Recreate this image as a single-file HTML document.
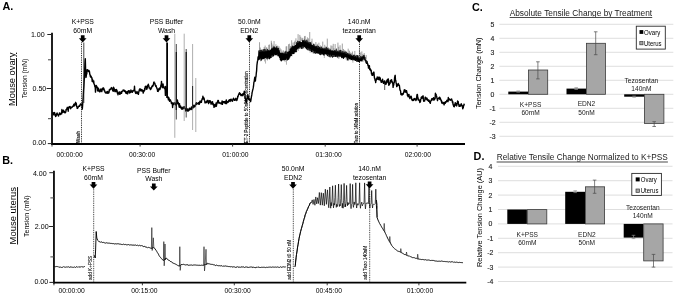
<!DOCTYPE html>
<html><head><meta charset="utf-8"><title>Figure</title>
<style>
html,body{margin:0;padding:0;background:#fff;}
svg{display:block;font-family:"Liberation Sans", Arial, Helvetica, sans-serif;}
</style></head><body>
<svg width="675" height="295" viewBox="0 0 675 295">
<rect x="0" y="0" width="675" height="295" fill="#fff"/>
<text x="2.40" y="10.30" font-size="10.8" text-anchor="start" font-weight="bold" >A.</text>
<text transform="translate(15.00,79.30) rotate(-90)" font-size="9.3" text-anchor="middle" textLength="53.30" lengthAdjust="spacingAndGlyphs" text-decoration="underline">Mouse ovary</text>
<text transform="translate(27.00,78.50) rotate(-90)" font-size="6.5" text-anchor="middle" textLength="39.60" lengthAdjust="spacingAndGlyphs" >Tension (mN)</text>
<line x1="52.00" y1="32.80" x2="52.00" y2="144.90" stroke="#000" stroke-width="1.75" />
<line x1="51.15" y1="144.00" x2="465.00" y2="144.00" stroke="#000" stroke-width="1.8" />
<line x1="47.30" y1="34.50" x2="52.00" y2="34.50" stroke="#222" stroke-width="1.0" />
<text x="44.70" y="37.20" font-size="7.1" text-anchor="end" >1.00</text>
<line x1="46.60" y1="88.50" x2="52.00" y2="88.50" stroke="#222" stroke-width="1.0" />
<text x="46.30" y="90.90" font-size="7.1" text-anchor="end" >0.50</text>
<line x1="47.80" y1="143.60" x2="52.00" y2="143.60" stroke="#222" stroke-width="1.0" />
<text x="46.20" y="145.20" font-size="7.1" text-anchor="end" >0.00</text>
<line x1="48.00" y1="59.80" x2="52.00" y2="59.80" stroke="#444" stroke-width="1.0" />
<line x1="48.00" y1="118.70" x2="52.00" y2="118.70" stroke="#444" stroke-width="1.0" />
<line x1="52.00" y1="144.00" x2="52.00" y2="146.60" stroke="#222" stroke-width="0.9" />
<line x1="140.10" y1="144.00" x2="140.10" y2="146.60" stroke="#222" stroke-width="0.9" />
<line x1="232.60" y1="144.00" x2="232.60" y2="146.60" stroke="#222" stroke-width="0.9" />
<line x1="325.20" y1="144.00" x2="325.20" y2="146.60" stroke="#222" stroke-width="0.9" />
<line x1="417.10" y1="144.00" x2="417.10" y2="146.60" stroke="#222" stroke-width="0.9" />
<text x="69.60" y="157.20" font-size="6.8" text-anchor="middle" textLength="26.30" lengthAdjust="spacingAndGlyphs" >00:00:00</text>
<text x="142.10" y="157.20" font-size="6.8" text-anchor="middle" textLength="26.30" lengthAdjust="spacingAndGlyphs" >00:30:00</text>
<text x="235.40" y="157.20" font-size="6.8" text-anchor="middle" textLength="26.30" lengthAdjust="spacingAndGlyphs" >01:00:00</text>
<text x="328.60" y="157.20" font-size="6.8" text-anchor="middle" textLength="26.30" lengthAdjust="spacingAndGlyphs" >01:30:00</text>
<text x="417.80" y="157.20" font-size="6.8" text-anchor="middle" textLength="26.30" lengthAdjust="spacingAndGlyphs" >02:00:00</text>
<text x="82.70" y="24.20" font-size="6.8" text-anchor="middle" >K+PSS</text>
<text x="82.70" y="33.00" font-size="6.8" text-anchor="middle" >60mM</text>
<polygon points="80.85,35.30 84.55,35.30 84.55,38.20 86.55,38.20 82.70,42.40 78.85,38.20 80.85,38.20" fill="#000"/>
<text x="166.50" y="24.30" font-size="6.8" text-anchor="middle" >PSS Buffer</text>
<text x="166.50" y="32.90" font-size="6.8" text-anchor="middle" >Wash</text>
<polygon points="164.65,35.30 168.35,35.30 168.35,38.20 170.35,38.20 166.50,42.40 162.65,38.20 164.65,38.20" fill="#000"/>
<text x="249.30" y="24.20" font-size="6.8" text-anchor="middle" >50.0nM</text>
<text x="249.30" y="32.60" font-size="6.8" text-anchor="middle" >EDN2</text>
<polygon points="247.45,35.20 251.15,35.20 251.15,38.30 253.15,38.30 249.30,42.50 245.45,38.30 247.45,38.30" fill="#000"/>
<text x="359.20" y="24.20" font-size="6.8" text-anchor="middle" >140.nM</text>
<text x="359.20" y="32.80" font-size="6.8" text-anchor="middle" >tezosentan</text>
<polygon points="357.35,35.30 361.05,35.30 361.05,38.30 363.05,38.30 359.20,42.50 355.35,38.30 357.35,38.30" fill="#000"/>
<line x1="81.50" y1="42.40" x2="81.50" y2="143.20" stroke="#000" stroke-width="0.9" stroke-dasharray="0.9 0.9"/>
<line x1="249.50" y1="42.40" x2="249.50" y2="143.20" stroke="#000" stroke-width="0.9" stroke-dasharray="0.9 0.9"/>
<line x1="359.50" y1="42.40" x2="359.50" y2="143.20" stroke="#000" stroke-width="0.9" stroke-dasharray="0.9 0.9"/>
<text transform="translate(80.30,143.00) rotate(-90)" font-size="4.6" text-anchor="start" font-weight="bold" textLength="12.20" lengthAdjust="spacingAndGlyphs" >Wash</text>
<text transform="translate(248.10,143.20) rotate(-90)" font-size="5.2" text-anchor="start" textLength="72.00" lengthAdjust="spacingAndGlyphs" stroke="#000" stroke-width="0.12">ET-2 Peptide to 50nM Concentration</text>
<text transform="translate(358.30,143.20) rotate(-90)" font-size="5.2" text-anchor="start" textLength="40.00" lengthAdjust="spacingAndGlyphs" stroke="#000" stroke-width="0.12">Tezo to 140nM solution</text>
<path d="M52.60 113.22 L52.90 112.76 L53.20 114.85 L53.50 113.00 L53.80 114.08 L54.10 112.45 L54.40 113.15 L54.70 112.72 L55.00 115.30 L55.30 114.34 L55.60 116.47 L55.90 115.67 L56.20 115.86 L56.50 113.74 L56.80 114.65 L57.10 113.01 L57.40 114.41 L57.70 114.66 L58.00 114.82 L58.30 115.64 L58.60 115.95 L58.90 114.27 L59.20 114.28 L59.50 112.88 L59.80 113.13 L60.10 113.60 L60.40 114.52 L60.70 113.51 L61.00 113.81 L61.30 113.95 L61.60 113.85 L61.90 109.45 L62.20 112.80 L62.50 112.20 L62.80 111.81 L63.10 110.85 L63.40 110.20 L63.70 110.86 L64.00 112.25 L64.30 111.48 L64.60 111.85 L64.90 112.90 L65.20 112.75 L65.50 112.04 L65.80 111.97 L66.10 109.36 L66.40 109.87 L66.70 108.89 L67.00 108.43 L67.30 107.32 L67.60 109.01 L67.90 107.59 L68.20 111.22 L68.50 108.23 L68.80 108.10 L69.10 106.78 L69.40 107.69 L69.70 106.91 L70.00 106.61 L70.30 106.99 L70.60 108.75 L70.90 107.83 L71.20 107.09 L71.50 107.09 L71.80 107.53 L72.10 106.94 L72.40 107.02 L72.70 106.19 L73.00 106.34 L73.30 105.67 L73.60 105.23 L73.90 104.28 L74.20 105.92 L74.50 105.04 L74.80 105.38 L75.10 103.28 L75.40 104.22 L75.70 102.33 L76.00 103.34 L76.30 103.45 L76.60 106.44 L76.90 106.53 L77.20 108.42 L77.50 108.27 L77.80 108.14 L78.10 107.02 L78.40 106.95 L78.70 106.47 L79.00 106.23 L79.30 105.36 L79.60 106.29 L79.90 105.33 L80.20 104.99 L80.50 103.93 L80.80 104.90 L81.10 103.95 L81.40 104.79 L81.70 104.45 L82.00 105.65 L82.30 109.11 L82.60 105.75 L82.90 100.69 L83.20 97.00 L83.50 90.79 L83.80 87.48 L84.10 82.11 L84.40 76.82 L84.70 69.11 L85.00 62.26 L85.30 58.66 L85.60 69.72 L85.90 77.56 L86.20 76.55 L86.50 73.10 L86.80 73.93 L87.10 69.73 L87.40 69.63 L87.70 70.09 L88.00 71.10 L88.30 70.45 L88.60 71.59 L88.90 70.46 L89.20 71.23 L89.50 71.72 L89.80 74.28 L90.10 75.14 L90.40 76.59 L90.70 75.67 L91.00 77.36 L91.30 76.58 L91.60 77.74 L91.90 77.66 L92.20 81.33 L92.50 79.26 L92.80 81.44 L93.10 81.56 L93.40 82.67 L93.70 80.84 L94.00 83.99 L94.30 84.11 L94.60 85.25 L94.90 86.74 L95.20 87.08 L95.50 92.12 L95.80 86.30 L96.10 85.51 L96.40 85.61 L96.70 86.68 L97.00 87.63 L97.30 87.04 L97.60 90.86 L97.90 88.85 L98.20 89.28 L98.50 88.29 L98.80 91.06 L99.10 91.20 L99.40 91.79 L99.70 90.09 L100.00 91.75 L100.30 89.58 L100.60 89.82 L100.90 88.97 L101.20 91.00 L101.50 90.01 L101.80 91.61 L102.10 88.92 L102.40 89.79 L102.70 88.32 L103.00 89.35 L103.30 87.82 L103.60 88.32 L103.90 88.67 L104.20 90.64 L104.50 90.20 L104.80 91.57 L105.10 92.34 L105.40 92.62 L105.70 92.63 L106.00 93.29 L106.30 92.16 L106.60 92.84 L106.90 92.27 L107.20 91.41 L107.50 91.73 L107.80 93.26 L108.10 91.92 L108.40 92.21 L108.70 93.01 L109.00 92.34 L109.30 89.81 L109.60 90.61 L109.90 89.20 L110.20 89.25 L110.50 88.90 L110.80 89.22 L111.10 87.96 L111.40 88.33 L111.70 87.59 L112.00 88.60 L112.30 88.58 L112.60 90.34 L112.90 89.09 L113.20 91.31 L113.50 87.15 L113.80 89.00 L114.10 88.23 L114.40 90.70 L114.70 89.46 L115.00 91.65 L115.30 91.21 L115.60 91.58 L115.90 89.77 L116.20 91.55 L116.50 89.56 L116.80 90.48 L117.10 90.59 L117.40 93.12 L117.70 93.20 L118.00 94.76 L118.30 92.89 L118.60 93.61 L118.90 92.26 L119.20 91.92 L119.50 91.94 L119.80 94.35 L120.10 92.66 L120.40 93.88 L120.70 92.89 L121.00 93.20 L121.30 91.40 L121.60 93.21 L121.90 91.55 L122.20 91.43 L122.50 91.20 L122.80 90.94 L123.10 90.04 L123.40 90.79 L123.70 90.36 L124.00 90.05 L124.30 90.56 L124.60 91.45 L124.90 90.84 L125.20 91.44 L125.50 91.08 L125.80 93.06 L126.10 91.71 L126.40 93.20 L126.70 93.03 L127.00 93.57 L127.30 91.71 L127.60 93.78 L127.90 91.68 L128.20 91.07 L128.50 90.76 L128.80 91.02 L129.10 90.62 L129.40 92.98 L129.70 91.55 L130.00 92.91 L130.30 91.95 L130.60 92.28 L130.90 90.04 L131.20 91.65 L131.50 90.95 L131.80 92.05 L132.10 91.30 L132.40 92.27 L132.70 90.83 L133.00 91.28 L133.30 90.39 L133.60 90.73 L133.90 90.60 L134.20 90.78 L134.50 86.23 L134.80 90.69 L135.10 90.95 L135.40 92.68 L135.70 93.28 L136.00 93.46 L136.30 93.38 L136.60 93.07 L136.90 91.54 L137.20 91.92 L137.50 93.08 L137.80 93.82 L138.10 92.98 L138.40 94.27 L138.70 92.37 L139.00 91.50 L139.30 89.70 L139.60 90.39 L139.90 88.82 L140.20 89.19 L140.50 89.04 L140.80 90.80 L141.10 90.37 L141.40 89.83 L141.70 89.58 L142.00 91.14 L142.30 89.97 L142.60 90.27 L142.90 91.21 L143.20 93.13 L143.50 90.62 L143.80 91.62 L144.10 90.89 L144.40 90.64 L144.70 88.17 L145.00 89.79 L145.30 86.43 L145.60 86.85 L145.90 86.13 L146.20 87.42 L146.50 86.49 L146.80 89.34 L147.10 88.28 L147.40 86.97 L147.70 85.31 L148.00 85.72 L148.30 84.27 L148.60 85.56 L148.90 86.47 L149.20 88.05 L149.50 87.82 L149.80 87.96 L150.10 88.36 L150.40 89.54 L150.70 89.36 L151.00 88.70 L151.30 87.49 L151.60 87.89 L151.90 86.22 L152.20 86.46 L152.50 85.47 L152.80 86.26 L153.10 85.41 L153.40 84.77 L153.70 82.56 L154.00 81.95 L154.30 82.54 L154.60 83.03 L154.90 83.38 L155.20 85.03 L155.50 85.73 L155.80 86.54 L156.10 85.55 L156.40 86.94 L156.70 87.63 L157.00 88.69 L157.30 89.25 L157.60 91.30 L157.90 91.20 L158.20 91.43 L158.50 88.98 L158.80 89.71 L159.10 88.54 L159.40 89.73 L159.70 88.00 L160.00 89.45 L160.30 88.17 L160.60 87.84 L160.90 85.07 L161.20 85.48 L161.50 81.41 L161.80 85.93 L162.10 85.69 L162.40 87.50 L162.70 87.69 L163.00 83.83 L163.30 85.46 L163.60 86.80 L163.90 86.51 L164.20 88.01 L164.50 88.63 L164.80 88.70 L165.10 87.99 L165.40 95.42 L165.70 86.43 L166.00 87.19 L166.30 89.48 L166.60 91.69 L166.90 92.56 L167.20 95.40 L167.50 96.62 L167.80 97.87 L168.10 96.96 L168.40 99.88 L168.70 99.07 L169.00 97.86 L169.30 100.00 L169.60 101.23 L169.90 99.64 L170.20 100.59 L170.50 100.00 L170.80 101.00 L171.10 101.56 L171.40 103.39 L171.70 102.69 L172.00 103.68 L172.30 103.09 L172.60 107.49 L172.90 102.86 L173.20 104.54 L173.50 103.07 L173.80 104.61 L174.10 103.56 L174.40 103.95 L174.70 102.78 L175.00 103.79 L175.30 103.13 L175.60 104.67 L175.90 103.72 L176.20 105.13 L176.50 103.44 L176.80 104.20 L177.10 102.80 L177.40 99.90 L177.70 102.05 L178.00 103.47 L178.30 102.70 L178.60 103.94 L178.90 105.35 L179.20 107.14 L179.50 103.64 L179.80 107.36 L180.10 106.85 L180.40 107.21 L180.70 106.06 L181.00 108.12 L181.30 107.44 L181.60 109.06 L181.90 107.59 L182.20 108.77 L182.50 108.43 L182.80 109.21 L183.10 106.98 L183.40 108.60 L183.70 107.86 L184.00 107.74 L184.30 106.68 L184.60 108.10 L184.90 108.31 L185.20 108.95 L185.50 108.68 L185.80 110.97 L186.10 109.76 L186.40 109.80 L186.70 109.72 L187.00 110.36 L187.30 108.83 L187.60 110.45 L187.90 111.16 L188.20 110.90 L188.50 109.69 L188.80 110.66 L189.10 108.50 L189.40 109.33 L189.70 108.09 L190.00 109.67 L190.30 108.78 L190.60 109.21 L190.90 108.20 L191.20 108.89 L191.50 106.95 L191.80 109.47 L192.10 108.22 L192.40 107.92 L192.70 107.65 L193.00 108.01 L193.30 105.41 L193.60 105.42 L193.90 105.16 L194.20 107.16 L194.50 105.94 L194.80 106.57 L195.10 105.21 L195.40 106.05 L195.70 104.08 L196.00 103.36 L196.30 102.67 L196.60 104.34 L196.90 103.47 L197.20 103.74 L197.50 103.25 L197.80 103.63 L198.10 103.49 L198.40 104.03 L198.70 102.58 L199.00 104.24 L199.30 104.36 L199.60 103.33 L199.90 101.21 L200.20 102.61 L200.50 101.63 L200.80 101.50 L201.10 100.62 L201.40 102.31 L201.70 100.15 L202.00 99.74 L202.30 98.36 L202.60 99.21 L202.90 96.17 L203.20 98.58 L203.50 97.39 L203.80 99.18 L204.10 98.27 L204.40 100.23 L204.70 100.75 L205.00 102.82 L205.30 101.88 L205.60 102.72 L205.90 102.57 L206.20 102.58 L206.50 101.51 L206.80 102.54 L207.10 100.57 L207.40 101.67 L207.70 101.40 L208.00 100.31 L208.30 102.00 L208.60 103.56 L208.90 102.48 L209.20 101.97 L209.50 100.65 L209.80 102.18 L210.10 100.65 L210.40 101.37 L210.70 101.47 L211.00 104.12 L211.30 102.30 L211.60 103.69 L211.90 103.46 L212.20 103.91 L212.50 101.69 L212.80 103.88 L213.10 103.57 L213.40 105.00 L213.70 104.05 L214.00 107.32 L214.30 105.48 L214.60 106.27 L214.90 104.77 L215.20 106.50 L215.50 104.67 L215.80 105.20 L216.10 102.93 L216.40 106.26 L216.70 103.99 L217.00 103.87 L217.30 101.99 L217.60 102.23 L217.90 100.46 L218.20 100.39 L218.50 101.07 L218.80 102.81 L219.10 103.25 L219.40 102.66 L219.70 103.12 L220.00 102.91 L220.30 103.05 L220.60 103.46 L220.90 103.11 L221.20 103.91 L221.50 103.29 L221.80 102.80 L222.10 100.89 L222.40 104.42 L222.70 101.41 L223.00 102.56 L223.30 101.83 L223.60 102.64 L223.90 101.86 L224.20 101.72 L224.50 102.02 L224.80 103.08 L225.10 101.51 L225.40 103.17 L225.70 103.52 L226.00 102.97 L226.30 99.89 L226.60 103.57 L226.90 101.42 L227.20 102.30 L227.50 101.71 L227.80 102.29 L228.10 101.21 L228.40 102.15 L228.70 100.51 L229.00 101.15 L229.30 99.73 L229.60 100.76 L229.90 100.76 L230.20 101.47 L230.50 99.54 L230.80 100.01 L231.10 99.12 L231.40 99.80 L231.70 100.36 L232.00 100.89 L232.30 101.20 L232.60 100.96 L232.90 99.44 L233.20 99.28 L233.50 98.23 L233.80 98.80 L234.10 99.28 L234.40 100.25 L234.70 100.04 L235.00 100.31 L235.30 99.02 L235.60 99.52 L235.90 98.31 L236.20 99.79 L236.50 99.16 L236.80 100.63 L237.10 99.25 L237.40 98.87 L237.70 96.38 L238.00 96.89 L238.30 95.24 L238.60 94.83 L238.90 93.66 L239.20 94.44 L239.50 92.70 L239.80 94.07 L240.10 93.32 L240.40 94.08 L240.70 94.97 L241.00 95.57 L241.30 94.64 L241.60 95.55 L241.90 94.54 L242.20 94.43 L242.50 93.96 L242.80 95.75 L243.10 94.02 L243.40 94.87 L243.70 93.21 L244.00 93.56 L244.30 91.20 L244.60 94.28 L244.90 94.51 L245.20 97.54 L245.50 99.12 L245.80 101.53 L246.10 101.26 L246.40 102.68 L246.70 99.56 L247.00 98.84 L247.30 96.15 L247.60 98.71 L247.90 94.77 L248.20 96.64 L248.50 96.59 L248.80 99.56 L249.10 99.54 L249.40 99.62 L249.70 99.40 L250.00 99.89 L250.30 99.25 L250.60 101.62 L250.90 100.16 L251.20 98.07 L251.50 96.49 L251.80 94.94 L252.10 92.55 L252.40 91.43 L252.70 89.90 L253.00 88.99 L253.30 87.40 L253.60 85.30 L253.90 82.30 L254.20 81.67 L254.50 79.09 L254.80 77.24 L255.10 77.61 L255.40 81.05 L255.70 77.46 L256.00 76.50 L256.30 73.20 L256.60 70.86 L256.90 65.42 L257.20 63.19 L257.50 60.99 L257.80 60.14 L258.10 56.82 L258.40 56.73 L258.60 59.51 L259.02 50.83 L259.44 58.93 L259.86 50.64 L260.28 57.87 L260.70 50.55 L261.12 60.13 L261.54 50.81 L261.96 58.96 L262.38 51.88 L262.80 58.42 L263.22 50.10 L263.64 58.49 L264.06 49.65 L264.48 58.17 L264.90 49.41 L265.32 57.57 L265.74 51.21 L266.16 56.97 L266.58 51.01 L267.00 58.62 L267.42 49.59 L267.84 58.58 L268.26 50.92 L268.68 56.80 L269.10 50.52 L269.52 58.60 L269.94 51.26 L270.36 57.51 L270.78 50.10 L271.20 57.22 L271.62 48.71 L272.04 54.56 L272.46 49.04 L272.88 56.27 L273.30 47.19 L273.72 55.32 L274.14 46.99 L274.56 53.77 L274.98 47.65 L275.40 54.65 L275.82 48.61 L276.24 54.61 L276.66 46.91 L277.08 54.24 L277.50 49.06 L277.92 55.49 L278.34 48.50 L278.76 55.72 L279.18 50.82 L279.60 57.28 L280.02 53.06 L280.44 59.82 L280.86 53.91 L281.28 60.83 L281.70 53.28 L282.12 59.62 L282.54 53.21 L282.96 59.87 L283.38 53.83 L283.80 59.38 L284.22 53.27 L284.64 59.80 L285.06 52.83 L285.48 59.42 L285.90 51.57 L286.32 57.92 L286.74 53.53 L287.16 59.88 L287.58 52.33 L288.00 59.35 L288.42 51.89 L288.84 58.77 L289.26 51.77 L289.68 56.97 L290.10 49.11 L290.52 55.65 L290.94 48.18 L291.36 55.37 L291.78 47.22 L292.20 53.34 L292.62 46.32 L293.04 53.47 L293.46 47.07 L293.88 53.36 L294.30 46.44 L294.72 51.89 L295.14 45.60 L295.56 51.52 L295.98 45.48 L296.40 51.58 L296.82 42.72 L297.24 48.73 L297.66 41.52 L298.08 47.81 L298.50 42.30 L298.92 48.18 L299.34 41.80 L299.76 46.71 L300.18 41.94 L300.60 47.04 L301.02 42.59 L301.44 48.24 L301.86 42.58 L302.28 48.04 L302.70 40.44 L303.12 47.43 L303.54 41.33 L303.96 46.65 L304.38 40.28 L304.80 46.33 L305.22 41.20 L305.64 47.51 L306.06 41.07 L306.48 48.33 L306.90 40.68 L307.32 49.51 L307.74 42.07 L308.16 48.71 L308.58 42.60 L309.00 49.82 L309.42 42.59 L309.84 50.09 L310.26 42.58 L310.68 50.33 L311.10 43.98 L311.52 51.56 L311.94 45.45 L312.36 51.38 L312.78 46.01 L313.20 50.08 L313.62 44.48 L314.04 52.85 L314.46 45.90 L314.88 52.25 L315.30 46.69 L315.72 53.11 L316.14 46.82 L316.56 52.52 L316.98 46.20 L317.40 52.72 L317.82 46.35 L318.24 53.13 L318.66 46.71 L319.08 53.11 L319.50 47.67 L319.92 54.29 L320.34 48.37 L320.76 54.51 L321.18 47.41 L321.60 53.64 L322.02 48.25 L322.44 53.43 L322.86 48.58 L323.28 54.48 L323.70 48.98 L324.12 55.07 L324.54 48.74 L324.96 53.65 L325.38 49.22 L325.80 53.71 L326.22 47.66 L326.64 54.13 L327.06 48.43 L327.48 55.52 L327.90 49.25 L328.32 53.92 L328.74 49.23 L329.16 56.44 L329.58 50.66 L330.00 54.67 L330.42 49.94 L330.84 56.48 L331.26 51.38 L331.68 55.26 L332.10 50.64 L332.52 56.93 L332.94 51.46 L333.36 56.39 L333.78 51.16 L334.20 56.15 L334.62 50.75 L335.04 56.11 L335.46 51.53 L335.88 56.36 L336.30 49.69 L336.72 55.74 L337.14 51.20 L337.56 56.90 L337.98 51.90 L338.40 56.02 L338.82 51.21 L339.24 56.30 L339.66 51.03 L340.08 54.93 L340.50 50.44 L340.92 56.35 L341.34 52.49 L341.76 57.44 L342.18 51.77 L342.60 57.09 L343.02 52.01 L343.44 58.20 L343.86 52.23 L344.28 57.17 L344.70 52.11 L345.12 56.26 L345.54 52.29 L345.96 56.85 L346.38 52.75 L346.80 57.73 L347.22 53.50 L347.64 59.74 L348.06 54.22 L348.48 58.73 L348.90 53.95 L349.32 58.68 L349.74 54.47 L350.16 58.40 L350.58 54.79 L351.00 59.48 L351.42 55.50 L351.84 59.39 L352.26 56.10 L352.68 59.79 L353.10 56.06 L353.52 59.47 L353.94 55.40 L354.36 59.56 L354.78 55.80 L355.20 60.24 L355.62 56.70 L356.04 60.32 L356.46 56.06 L356.88 61.29 L357.30 55.72 L357.72 60.97 L358.14 56.76 L358.56 61.40 L358.98 57.96 L359.40 61.57 L359.82 58.10 L360.24 60.64 L360.66 56.60 L361.08 60.49 L361.50 57.31 L361.92 60.80 L362.34 57.06 L362.76 59.45 L363.18 56.16 L363.60 58.89 L364.02 55.34 L364.44 59.06 L364.86 57.49 L365.28 60.65 L365.50 60.31 L365.80 60.90 L366.10 62.70 L366.40 60.84 L366.70 63.31 L367.00 61.37 L367.30 63.33 L367.60 63.49 L367.90 65.30 L368.20 65.03 L368.50 68.16 L368.80 65.98 L369.10 67.68 L369.40 65.69 L369.70 69.49 L370.00 68.36 L370.30 70.06 L370.60 69.48 L370.90 70.89 L371.20 70.34 L371.50 73.83 L371.80 74.15 L372.10 75.21 L372.40 73.44 L372.70 75.24 L373.00 72.92 L373.30 74.72 L373.60 73.07 L373.90 72.06 L374.20 75.63 L374.50 78.20 L374.80 78.45 L375.10 80.36 L375.40 80.30 L375.70 82.54 L376.00 79.94 L376.30 80.10 L376.60 78.46 L376.90 79.11 L377.20 77.03 L377.50 78.12 L377.80 77.77 L378.10 79.30 L378.40 77.27 L378.70 79.66 L379.00 79.08 L379.30 78.37 L379.60 77.21 L379.90 79.96 L380.20 77.86 L380.50 79.69 L380.80 80.26 L381.10 82.15 L381.40 80.92 L381.70 82.30 L382.00 81.28 L382.30 80.71 L382.60 79.30 L382.90 81.81 L383.20 81.68 L383.50 83.41 L383.80 82.28 L384.10 83.17 L384.40 81.04 L384.70 82.57 L385.00 81.29 L385.30 84.10 L385.60 82.69 L385.90 84.41 L386.20 82.52 L386.50 83.10 L386.80 80.46 L387.10 80.98 L387.40 79.48 L387.70 82.09 L388.00 81.22 L388.30 78.85 L388.60 83.36 L388.90 85.36 L389.20 84.34 L389.50 84.30 L389.80 82.74 L390.10 83.44 L390.40 80.37 L390.70 81.31 L391.00 80.12 L391.30 81.63 L391.60 79.73 L391.90 82.18 L392.20 81.58 L392.50 83.22 L392.80 83.29 L393.10 87.37 L393.40 84.38 L393.70 85.07 L394.00 82.18 L394.30 82.25 L394.60 77.53 L394.90 76.11 L395.20 75.31 L395.50 80.66 L395.80 80.56 L396.10 83.03 L396.40 83.76 L396.70 86.66 L397.00 84.52 L397.30 86.06 L397.60 85.43 L397.90 85.37 L398.20 83.53 L398.50 84.14 L398.80 85.01 L399.10 84.96 L399.40 85.57 L399.70 88.04 L400.00 90.17 L400.30 90.14 L400.60 91.18 L400.90 94.53 L401.20 94.25 L401.50 94.73 L401.80 93.73 L402.10 95.07 L402.40 94.42 L402.70 94.54 L403.00 93.41 L403.30 94.14 L403.60 92.16 L403.90 92.07 L404.20 89.96 L404.50 90.21 L404.80 89.70 L405.10 92.13 L405.40 91.35 L405.70 91.99 L406.00 90.80 L406.30 92.32 L406.60 90.75 L406.90 92.78 L407.20 93.24 L407.50 95.56 L407.80 94.69 L408.10 96.70 L408.40 95.10 L408.70 94.55 L409.00 94.49 L409.30 97.02 L409.60 97.23 L409.90 98.60 L410.20 97.30 L410.50 97.40 L410.80 96.14 L411.10 96.20 L411.40 97.04 L411.70 99.36 L412.00 99.71 L412.30 100.40 L412.60 100.53 L412.90 99.56 L413.20 99.69 L413.50 100.46 L413.80 99.32 L414.10 98.55 L414.40 99.17 L414.70 99.46 L415.00 98.37 L415.30 99.45 L415.60 99.50 L415.90 100.48 L416.20 99.85 L416.50 99.72 L416.80 96.11 L417.10 94.44 L417.40 94.64 L417.70 97.25 L418.00 98.29 L418.30 100.03 L418.60 99.23 L418.90 99.69 L419.20 100.14 L419.50 100.82 L419.80 102.50 L420.10 101.46 L420.40 101.90 L420.70 99.45 L421.00 98.67 L421.30 97.18 L421.60 97.76 L421.90 98.33 L422.20 96.58 L422.50 96.65 L422.80 96.85 L423.10 95.80 L423.40 99.38 L423.70 101.24 L424.00 100.68 L424.30 100.93 L424.60 101.10 L424.90 99.46 L425.20 97.10 L425.50 99.09 L425.80 97.44 L426.10 98.21 L426.40 98.38 L426.70 99.42 L427.00 98.09 L427.30 100.18 L427.60 99.49 L427.90 100.19 L428.20 100.49 L428.50 101.37 L428.80 100.03 L429.10 101.14 L429.40 100.81 L429.70 102.29 L430.00 101.63 L430.30 103.29 L430.60 101.42 L430.90 100.80 L431.20 99.94 L431.50 100.41 L431.80 98.68 L432.10 100.17 L432.40 98.60 L432.70 98.70 L433.00 98.36 L433.30 99.09 L433.60 97.59 L433.90 100.29 L434.20 99.63 L434.50 99.27 L434.80 98.49 L435.10 98.81 L435.40 93.20 L435.70 94.94 L436.00 94.28 L436.30 95.52 L436.60 96.21 L436.90 97.90 L437.20 99.00 L437.50 100.59 L437.80 98.75 L438.10 98.48 L438.40 98.00 L438.70 98.57 L439.00 98.01 L439.30 98.58 L439.60 97.21 L439.90 99.35 L440.20 97.95 L440.50 99.07 L440.80 99.63 L441.10 100.89 L441.40 100.27 L441.70 102.97 L442.00 101.60 L442.30 102.97 L442.60 102.74 L442.90 103.55 L443.20 103.29 L443.50 102.87 L443.80 102.40 L444.10 104.86 L444.40 103.17 L444.70 102.80 L445.00 102.13 L445.30 103.27 L445.60 101.62 L445.90 102.07 L446.20 101.89 L446.50 101.86 L446.80 100.35 L447.10 100.25 L447.40 100.65 L447.70 101.17 L448.00 101.65 L448.30 97.49 L448.60 100.04 L448.90 99.75 L449.20 99.05 L449.50 99.04 L449.80 99.79 L450.10 100.08 L450.40 99.59 L450.70 100.37 L451.00 99.39 L451.30 99.88 L451.60 98.90 L451.90 100.19 L452.20 100.58 L452.50 102.78 L452.80 101.79 L453.10 104.70 L453.40 105.02 L453.70 106.38 L454.00 105.30 L454.30 106.91 L454.60 105.52 L454.90 104.53 L455.20 102.77 L455.50 103.10 L455.80 103.31 L456.10 105.27 L456.40 104.59 L456.70 105.96 L457.00 104.19 L457.30 102.91 L457.60 101.03 L457.90 101.82 L458.20 101.48 L458.50 104.08 L458.80 104.64 L459.10 106.33 L459.40 106.13 L459.70 106.30 L460.00 104.96 L460.30 106.03 L460.60 105.54 L460.90 105.93 L461.20 103.80 L461.50 104.62 L461.80 105.34 L462.10 105.65 L462.40 105.91 L462.70 108.76 L463.00 107.46 L463.30 107.78 L463.60 105.31 L463.90 105.32 L464.20 104.00 L464.50 103.68" fill="none" stroke="#000" stroke-width="1.4" stroke-linejoin="round" />
<line x1="83.80" y1="42.50" x2="83.80" y2="103.00" stroke="#111" stroke-width="0.8" />
<line x1="384.70" y1="84.00" x2="384.70" y2="90.00" stroke="#111" stroke-width="0.7" />
<line x1="259.54" y1="42.19" x2="259.54" y2="51.75" stroke="#555" stroke-width="0.55" />
<line x1="260.30" y1="47.52" x2="260.30" y2="51.70" stroke="#555" stroke-width="0.55" />
<line x1="260.70" y1="59.00" x2="260.70" y2="61.42" stroke="#666" stroke-width="0.5" />
<line x1="261.85" y1="49.01" x2="261.85" y2="51.62" stroke="#555" stroke-width="0.55" />
<line x1="263.18" y1="49.01" x2="263.18" y2="51.53" stroke="#555" stroke-width="0.55" />
<line x1="264.17" y1="47.02" x2="264.17" y2="51.46" stroke="#555" stroke-width="0.55" />
<line x1="264.57" y1="58.51" x2="264.57" y2="61.45" stroke="#666" stroke-width="0.5" />
<line x1="265.14" y1="45.58" x2="265.14" y2="51.39" stroke="#555" stroke-width="0.55" />
<line x1="265.54" y1="58.38" x2="265.54" y2="63.58" stroke="#666" stroke-width="0.5" />
<line x1="266.47" y1="47.42" x2="266.47" y2="51.23" stroke="#555" stroke-width="0.55" />
<line x1="267.07" y1="47.57" x2="267.07" y2="51.10" stroke="#555" stroke-width="0.55" />
<line x1="267.47" y1="57.96" x2="267.47" y2="60.55" stroke="#666" stroke-width="0.5" />
<line x1="268.82" y1="44.91" x2="268.82" y2="50.73" stroke="#555" stroke-width="0.55" />
<line x1="269.36" y1="44.46" x2="269.36" y2="50.62" stroke="#555" stroke-width="0.55" />
<line x1="271.30" y1="40.76" x2="271.30" y2="49.05" stroke="#555" stroke-width="0.55" />
<line x1="271.70" y1="55.57" x2="271.70" y2="57.63" stroke="#666" stroke-width="0.5" />
<line x1="271.65" y1="42.72" x2="271.65" y2="48.65" stroke="#555" stroke-width="0.55" />
<line x1="272.95" y1="44.55" x2="272.95" y2="48.15" stroke="#555" stroke-width="0.55" />
<line x1="274.05" y1="41.07" x2="274.05" y2="48.01" stroke="#555" stroke-width="0.55" />
<line x1="275.90" y1="44.26" x2="275.90" y2="48.08" stroke="#555" stroke-width="0.55" />
<line x1="276.83" y1="46.27" x2="276.83" y2="48.27" stroke="#555" stroke-width="0.55" />
<line x1="277.23" y1="54.34" x2="277.23" y2="56.23" stroke="#666" stroke-width="0.5" />
<line x1="277.71" y1="45.61" x2="277.71" y2="48.46" stroke="#555" stroke-width="0.55" />
<line x1="278.99" y1="46.27" x2="278.99" y2="49.97" stroke="#555" stroke-width="0.55" />
<line x1="280.00" y1="47.88" x2="280.00" y2="51.47" stroke="#555" stroke-width="0.55" />
<line x1="281.00" y1="49.24" x2="281.00" y2="52.90" stroke="#555" stroke-width="0.55" />
<line x1="282.06" y1="50.57" x2="282.06" y2="53.26" stroke="#555" stroke-width="0.55" />
<line x1="283.53" y1="50.45" x2="283.53" y2="53.76" stroke="#555" stroke-width="0.55" />
<line x1="284.68" y1="51.31" x2="284.68" y2="53.88" stroke="#555" stroke-width="0.55" />
<line x1="285.08" y1="59.63" x2="285.08" y2="62.10" stroke="#666" stroke-width="0.5" />
<line x1="286.07" y1="46.45" x2="286.07" y2="53.79" stroke="#555" stroke-width="0.55" />
<line x1="286.47" y1="59.53" x2="286.47" y2="64.73" stroke="#666" stroke-width="0.5" />
<line x1="286.78" y1="46.20" x2="286.78" y2="53.75" stroke="#555" stroke-width="0.55" />
<line x1="288.51" y1="44.21" x2="288.51" y2="51.67" stroke="#555" stroke-width="0.55" />
<line x1="289.61" y1="43.72" x2="289.61" y2="50.18" stroke="#555" stroke-width="0.55" />
<line x1="290.61" y1="45.97" x2="290.61" y2="49.04" stroke="#555" stroke-width="0.55" />
<line x1="291.63" y1="40.28" x2="291.63" y2="48.02" stroke="#555" stroke-width="0.55" />
<line x1="292.03" y1="53.71" x2="292.03" y2="56.31" stroke="#666" stroke-width="0.5" />
<line x1="293.02" y1="42.62" x2="293.02" y2="46.65" stroke="#555" stroke-width="0.55" />
<line x1="294.29" y1="42.04" x2="294.29" y2="45.60" stroke="#555" stroke-width="0.55" />
<line x1="294.94" y1="40.70" x2="294.94" y2="45.06" stroke="#555" stroke-width="0.55" />
<line x1="295.93" y1="38.30" x2="295.93" y2="44.24" stroke="#555" stroke-width="0.55" />
<line x1="296.33" y1="49.88" x2="296.33" y2="51.58" stroke="#666" stroke-width="0.5" />
<line x1="297.69" y1="40.64" x2="297.69" y2="43.05" stroke="#555" stroke-width="0.55" />
<line x1="298.10" y1="34.16" x2="298.10" y2="42.77" stroke="#555" stroke-width="0.55" />
<line x1="298.50" y1="48.39" x2="298.50" y2="50.92" stroke="#666" stroke-width="0.5" />
<line x1="299.83" y1="34.93" x2="299.83" y2="41.62" stroke="#555" stroke-width="0.55" />
<line x1="300.23" y1="47.22" x2="300.23" y2="48.78" stroke="#666" stroke-width="0.5" />
<line x1="300.74" y1="36.73" x2="300.74" y2="41.32" stroke="#555" stroke-width="0.55" />
<line x1="301.79" y1="38.26" x2="301.79" y2="41.05" stroke="#555" stroke-width="0.55" />
<line x1="302.19" y1="46.59" x2="302.19" y2="49.18" stroke="#666" stroke-width="0.5" />
<line x1="302.75" y1="37.82" x2="302.75" y2="40.81" stroke="#555" stroke-width="0.55" />
<line x1="303.15" y1="46.32" x2="303.15" y2="48.99" stroke="#666" stroke-width="0.5" />
<line x1="304.54" y1="36.22" x2="304.54" y2="41.35" stroke="#555" stroke-width="0.55" />
<line x1="304.94" y1="46.81" x2="304.94" y2="48.53" stroke="#666" stroke-width="0.5" />
<line x1="305.21" y1="35.91" x2="305.21" y2="41.61" stroke="#555" stroke-width="0.55" />
<line x1="306.79" y1="39.01" x2="306.79" y2="42.23" stroke="#555" stroke-width="0.55" />
<line x1="307.37" y1="37.37" x2="307.37" y2="42.51" stroke="#555" stroke-width="0.55" />
<line x1="307.77" y1="47.87" x2="307.77" y2="50.19" stroke="#666" stroke-width="0.5" />
<line x1="308.56" y1="38.37" x2="308.56" y2="43.15" stroke="#555" stroke-width="0.55" />
<line x1="308.96" y1="48.48" x2="308.96" y2="51.02" stroke="#666" stroke-width="0.5" />
<line x1="309.72" y1="32.03" x2="309.72" y2="43.77" stroke="#555" stroke-width="0.55" />
<line x1="310.12" y1="49.06" x2="310.12" y2="52.72" stroke="#666" stroke-width="0.5" />
<line x1="311.41" y1="41.45" x2="311.41" y2="44.68" stroke="#555" stroke-width="0.55" />
<line x1="312.01" y1="38.70" x2="312.01" y2="45.00" stroke="#555" stroke-width="0.55" />
<line x1="312.41" y1="50.21" x2="312.41" y2="53.26" stroke="#666" stroke-width="0.5" />
<line x1="313.76" y1="43.57" x2="313.76" y2="45.86" stroke="#555" stroke-width="0.55" />
<line x1="314.65" y1="43.95" x2="314.65" y2="46.29" stroke="#555" stroke-width="0.55" />
<line x1="315.05" y1="51.42" x2="315.05" y2="52.90" stroke="#666" stroke-width="0.5" />
<line x1="315.86" y1="42.03" x2="315.86" y2="46.89" stroke="#555" stroke-width="0.55" />
<line x1="317.21" y1="43.81" x2="317.21" y2="47.43" stroke="#555" stroke-width="0.55" />
<line x1="317.72" y1="44.87" x2="317.72" y2="47.63" stroke="#555" stroke-width="0.55" />
<line x1="318.91" y1="42.70" x2="318.91" y2="48.09" stroke="#555" stroke-width="0.55" />
<line x1="320.57" y1="45.42" x2="320.57" y2="48.61" stroke="#555" stroke-width="0.55" />
<line x1="320.97" y1="53.55" x2="320.97" y2="55.06" stroke="#666" stroke-width="0.5" />
<line x1="321.41" y1="46.10" x2="321.41" y2="48.75" stroke="#555" stroke-width="0.55" />
<line x1="322.74" y1="41.60" x2="322.74" y2="48.96" stroke="#555" stroke-width="0.55" />
<line x1="323.91" y1="47.06" x2="323.91" y2="49.15" stroke="#555" stroke-width="0.55" />
<line x1="324.31" y1="53.98" x2="324.31" y2="58.04" stroke="#666" stroke-width="0.5" />
<line x1="324.74" y1="44.77" x2="324.74" y2="49.28" stroke="#555" stroke-width="0.55" />
<line x1="326.03" y1="46.13" x2="326.03" y2="49.51" stroke="#555" stroke-width="0.55" />
<line x1="327.29" y1="38.64" x2="327.29" y2="49.75" stroke="#555" stroke-width="0.55" />
<line x1="327.69" y1="54.36" x2="327.69" y2="55.59" stroke="#666" stroke-width="0.5" />
<line x1="328.52" y1="47.45" x2="328.52" y2="49.97" stroke="#555" stroke-width="0.55" />
<line x1="329.89" y1="48.15" x2="329.89" y2="50.25" stroke="#555" stroke-width="0.55" />
<line x1="330.29" y1="54.66" x2="330.29" y2="57.92" stroke="#666" stroke-width="0.5" />
<line x1="330.92" y1="45.39" x2="330.92" y2="50.48" stroke="#555" stroke-width="0.55" />
<line x1="332.03" y1="45.81" x2="332.03" y2="50.72" stroke="#555" stroke-width="0.55" />
<line x1="332.43" y1="54.96" x2="332.43" y2="56.56" stroke="#666" stroke-width="0.5" />
<line x1="333.24" y1="43.83" x2="333.24" y2="50.98" stroke="#555" stroke-width="0.55" />
<line x1="333.64" y1="55.12" x2="333.64" y2="56.92" stroke="#666" stroke-width="0.5" />
<line x1="333.91" y1="48.25" x2="333.91" y2="51.12" stroke="#555" stroke-width="0.55" />
<line x1="334.31" y1="55.21" x2="334.31" y2="56.65" stroke="#666" stroke-width="0.5" />
<line x1="335.15" y1="44.02" x2="335.15" y2="51.39" stroke="#555" stroke-width="0.55" />
<line x1="336.51" y1="48.12" x2="336.51" y2="51.67" stroke="#555" stroke-width="0.55" />
<line x1="336.91" y1="55.58" x2="336.91" y2="57.34" stroke="#666" stroke-width="0.5" />
<line x1="337.93" y1="42.62" x2="337.93" y2="51.97" stroke="#555" stroke-width="0.55" />
<line x1="338.33" y1="55.79" x2="338.33" y2="58.75" stroke="#666" stroke-width="0.5" />
<line x1="338.74" y1="46.77" x2="338.74" y2="52.13" stroke="#555" stroke-width="0.55" />
<line x1="339.14" y1="55.91" x2="339.14" y2="58.57" stroke="#666" stroke-width="0.5" />
<line x1="340.08" y1="45.26" x2="340.08" y2="52.38" stroke="#555" stroke-width="0.55" />
<line x1="341.42" y1="49.98" x2="341.42" y2="52.63" stroke="#555" stroke-width="0.55" />
<line x1="342.30" y1="43.59" x2="342.30" y2="52.80" stroke="#555" stroke-width="0.55" />
<line x1="343.51" y1="48.96" x2="343.51" y2="53.02" stroke="#555" stroke-width="0.55" />
<line x1="344.77" y1="49.94" x2="344.77" y2="53.26" stroke="#555" stroke-width="0.55" />
<line x1="345.64" y1="51.21" x2="345.64" y2="53.59" stroke="#555" stroke-width="0.55" />
<line x1="346.04" y1="56.97" x2="346.04" y2="59.55" stroke="#666" stroke-width="0.5" />
<line x1="346.51" y1="51.47" x2="346.51" y2="53.98" stroke="#555" stroke-width="0.55" />
<line x1="346.91" y1="57.33" x2="346.91" y2="60.61" stroke="#666" stroke-width="0.5" />
<line x1="348.20" y1="48.67" x2="348.20" y2="54.71" stroke="#555" stroke-width="0.55" />
<line x1="348.60" y1="58.01" x2="348.60" y2="61.04" stroke="#666" stroke-width="0.5" />
<line x1="349.48" y1="50.70" x2="349.48" y2="55.12" stroke="#555" stroke-width="0.55" />
<line x1="350.55" y1="52.54" x2="350.55" y2="55.46" stroke="#555" stroke-width="0.55" />
<line x1="351.73" y1="52.90" x2="351.73" y2="55.83" stroke="#555" stroke-width="0.55" />
<line x1="352.47" y1="51.49" x2="352.47" y2="56.07" stroke="#555" stroke-width="0.55" />
<line x1="352.87" y1="59.22" x2="352.87" y2="62.71" stroke="#666" stroke-width="0.5" />
<line x1="354.10" y1="54.01" x2="354.10" y2="56.58" stroke="#555" stroke-width="0.55" />
<line x1="354.81" y1="50.98" x2="354.81" y2="56.81" stroke="#555" stroke-width="0.55" />
<line x1="356.28" y1="54.80" x2="356.28" y2="57.27" stroke="#555" stroke-width="0.55" />
<line x1="356.68" y1="60.30" x2="356.68" y2="61.63" stroke="#666" stroke-width="0.5" />
<line x1="356.83" y1="55.20" x2="356.83" y2="57.45" stroke="#555" stroke-width="0.55" />
<line x1="358.47" y1="54.98" x2="358.47" y2="58.14" stroke="#555" stroke-width="0.55" />
<line x1="359.45" y1="49.72" x2="359.45" y2="58.56" stroke="#555" stroke-width="0.55" />
<line x1="360.64" y1="52.40" x2="360.64" y2="58.38" stroke="#555" stroke-width="0.55" />
<line x1="361.85" y1="51.39" x2="361.85" y2="57.60" stroke="#555" stroke-width="0.55" />
<line x1="362.82" y1="54.10" x2="362.82" y2="56.75" stroke="#555" stroke-width="0.55" />
<line x1="363.22" y1="58.42" x2="363.22" y2="61.72" stroke="#666" stroke-width="0.5" />
<line x1="364.22" y1="53.01" x2="364.22" y2="56.81" stroke="#555" stroke-width="0.55" />
<line x1="365.20" y1="56.93" x2="365.20" y2="59.01" stroke="#555" stroke-width="0.55" />
<line x1="366.18" y1="54.99" x2="366.18" y2="59.70" stroke="#555" stroke-width="0.55" />
<line x1="366.58" y1="60.30" x2="366.58" y2="61.42" stroke="#666" stroke-width="0.5" />
<line x1="167.10" y1="42.50" x2="167.10" y2="98.00" stroke="#000" stroke-width="1.8" />
<line x1="174.80" y1="33.70" x2="174.80" y2="137.80" stroke="#777" stroke-width="0.6" />
<line x1="176.30" y1="44.00" x2="176.30" y2="119.50" stroke="#333" stroke-width="0.9" />
<line x1="176.30" y1="52.00" x2="176.30" y2="110.00" stroke="#111" stroke-width="1.2" />
<line x1="184.20" y1="33.70" x2="184.20" y2="121.00" stroke="#777" stroke-width="0.6" />
<line x1="186.20" y1="49.00" x2="186.20" y2="117.50" stroke="#333" stroke-width="0.9" />
<line x1="186.20" y1="52.00" x2="186.20" y2="111.00" stroke="#111" stroke-width="1.2" />
<line x1="192.60" y1="44.00" x2="192.60" y2="130.00" stroke="#777" stroke-width="0.6" />
<line x1="192.60" y1="86.00" x2="192.60" y2="108.00" stroke="#222" stroke-width="1.0" />
<line x1="195.80" y1="78.00" x2="195.80" y2="132.00" stroke="#777" stroke-width="0.6" />
<text x="2.30" y="164.10" font-size="10.8" text-anchor="start" font-weight="bold" >B.</text>
<text transform="translate(16.10,215.80) rotate(-90)" font-size="9.3" text-anchor="middle" textLength="57.40" lengthAdjust="spacingAndGlyphs" text-decoration="underline">Mouse uterus</text>
<text transform="translate(29.10,216.20) rotate(-90)" font-size="6.6" text-anchor="middle" textLength="41.60" lengthAdjust="spacingAndGlyphs" >Tension (mN)</text>
<line x1="53.95" y1="170.80" x2="53.95" y2="283.60" stroke="#000" stroke-width="1.75" />
<line x1="53.10" y1="282.70" x2="466.30" y2="282.70" stroke="#000" stroke-width="1.8" />
<line x1="49.30" y1="172.70" x2="53.95" y2="172.70" stroke="#222" stroke-width="1.0" />
<text x="46.70" y="175.90" font-size="7.1" text-anchor="end" >4.00</text>
<line x1="49.00" y1="226.50" x2="53.95" y2="226.50" stroke="#222" stroke-width="1.0" />
<text x="48.60" y="229.20" font-size="7.1" text-anchor="end" >2.00</text>
<line x1="49.40" y1="282.40" x2="53.95" y2="282.40" stroke="#222" stroke-width="1.0" />
<text x="48.20" y="283.90" font-size="7.1" text-anchor="end" >0.00</text>
<line x1="50.40" y1="197.90" x2="53.95" y2="197.90" stroke="#444" stroke-width="1.0" />
<line x1="50.40" y1="256.90" x2="53.95" y2="256.90" stroke="#444" stroke-width="1.0" />
<line x1="53.95" y1="282.70" x2="53.95" y2="285.30" stroke="#222" stroke-width="0.9" />
<line x1="142.40" y1="282.70" x2="142.40" y2="285.30" stroke="#222" stroke-width="0.9" />
<line x1="234.30" y1="282.70" x2="234.30" y2="285.30" stroke="#222" stroke-width="0.9" />
<line x1="327.20" y1="282.70" x2="327.20" y2="285.30" stroke="#222" stroke-width="0.9" />
<line x1="418.90" y1="282.70" x2="418.90" y2="285.30" stroke="#222" stroke-width="0.9" />
<text x="71.60" y="292.70" font-size="6.8" text-anchor="middle" textLength="26.30" lengthAdjust="spacingAndGlyphs" >00:00:00</text>
<text x="144.40" y="292.70" font-size="6.8" text-anchor="middle" textLength="26.30" lengthAdjust="spacingAndGlyphs" >00:15:00</text>
<text x="237.70" y="292.70" font-size="6.8" text-anchor="middle" textLength="26.30" lengthAdjust="spacingAndGlyphs" >00:30:00</text>
<text x="328.80" y="292.70" font-size="6.8" text-anchor="middle" textLength="26.30" lengthAdjust="spacingAndGlyphs" >00:45:00</text>
<text x="420.00" y="292.70" font-size="6.8" text-anchor="middle" textLength="26.30" lengthAdjust="spacingAndGlyphs" >01:00:00</text>
<text x="93.50" y="171.30" font-size="6.8" text-anchor="middle" >K+PSS</text>
<text x="93.50" y="179.60" font-size="6.8" text-anchor="middle" >60mM</text>
<polygon points="91.65,181.90 95.35,181.90 95.35,184.60 97.35,184.60 93.50,188.80 89.65,184.60 91.65,184.60" fill="#000"/>
<text x="153.80" y="172.50" font-size="6.8" text-anchor="middle" >PSS Buffer</text>
<text x="153.80" y="180.80" font-size="6.8" text-anchor="middle" >Wash</text>
<polygon points="151.95,183.60 155.65,183.60 155.65,186.40 157.65,186.40 153.80,190.60 149.95,186.40 151.95,186.40" fill="#000"/>
<text x="293.00" y="171.30" font-size="6.8" text-anchor="middle" >50.0nM</text>
<text x="293.00" y="179.60" font-size="6.8" text-anchor="middle" >EDN2</text>
<polygon points="291.15,181.90 294.85,181.90 294.85,184.60 296.85,184.60 293.00,188.80 289.15,184.60 291.15,184.60" fill="#000"/>
<text x="369.60" y="171.20" font-size="6.8" text-anchor="middle" >140.nM</text>
<text x="369.60" y="179.50" font-size="6.8" text-anchor="middle" >tezosentan</text>
<polygon points="367.75,181.40 371.45,181.40 371.45,184.20 373.45,184.20 369.60,188.40 365.75,184.20 367.75,184.20" fill="#000"/>
<line x1="93.70" y1="188.80" x2="93.70" y2="281.80" stroke="#000" stroke-width="0.8" stroke-dasharray="0.9 0.9"/>
<line x1="293.30" y1="188.80" x2="293.30" y2="281.80" stroke="#000" stroke-width="0.8" stroke-dasharray="0.9 0.9"/>
<line x1="369.70" y1="188.80" x2="369.70" y2="281.80" stroke="#000" stroke-width="0.8" stroke-dasharray="0.9 0.9"/>
<text transform="translate(92.00,280.00) rotate(-90)" font-size="5.6" text-anchor="start" textLength="24.20" lengthAdjust="spacingAndGlyphs" stroke="#000" stroke-width="0.1">add K+PSS</text>
<text transform="translate(291.30,279.70) rotate(-90)" font-size="5.6" text-anchor="start" textLength="40.00" lengthAdjust="spacingAndGlyphs" stroke="#000" stroke-width="0.1">add EDN2 t0 50 nM</text>
<text transform="translate(367.20,279.80) rotate(-90)" font-size="5.6" text-anchor="start" textLength="34.00" lengthAdjust="spacingAndGlyphs" stroke="#000" stroke-width="0.1">add Tezo 140nM</text>
<path d="M54.50 266.51 L55.00 266.81 L55.50 266.70 L56.00 267.00 L56.50 266.43 L57.00 266.86 L57.50 266.59 L58.00 266.78 L58.50 266.79 L59.00 267.43 L59.50 267.15 L60.00 267.15 L60.50 267.08 L61.00 267.27 L61.50 267.44 L62.00 267.23 L62.50 267.26 L63.00 267.21 L63.50 266.68 L64.00 266.75 L64.50 267.07 L65.00 267.04 L65.50 267.23 L66.00 267.36 L66.50 266.97 L67.00 267.28 L67.50 267.04 L68.00 267.08 L68.50 266.79 L69.00 267.11 L69.50 267.45 L70.00 266.67 L70.50 267.03 L71.00 267.11 L71.50 267.09 L72.00 267.47 L72.50 267.25 L73.00 267.01 L73.50 267.34 L74.00 266.93 L74.50 266.94 L75.00 267.36 L75.50 267.48 L76.00 267.21 L76.50 266.76 L77.00 266.65 L77.50 267.27 L78.00 267.31 L78.50 266.84 L79.00 267.37 L79.50 266.88 L80.00 266.64 L80.50 266.99 L81.00 267.06 L81.50 266.66 L82.00 267.17 L82.50 266.82 L83.00 267.11 L83.50 266.99 L84.00 266.51 L84.50 266.52 L85.00 266.88" fill="none" stroke="#000" stroke-width="0.9" stroke-linejoin="round" />
<path d="M94.30 256.50 L94.60 255.60 L95.20 258.00 L95.60 250.00 L96.20 231.50 L96.80 238.00 L97.50 240.00 L98.00 240.48 L98.50 241.32 L99.00 241.60 L99.50 241.71 L100.00 241.63 L100.50 242.29 L101.00 241.85 L101.50 241.92 L102.00 241.94 L102.50 242.56 L103.00 242.57 L103.50 242.40 L104.00 242.33 L104.50 242.81 L105.00 242.80 L105.50 243.11 L106.00 242.81 L106.50 242.75 L107.00 242.94 L107.50 243.05 L108.00 243.09 L108.50 243.14 L109.00 243.05 L109.50 243.17 L110.00 243.53 L110.50 243.40 L111.00 243.86 L111.50 243.43 L112.00 243.39 L112.50 243.60 L113.00 243.83 L113.50 243.59 L114.00 243.68 L114.50 243.95 L115.00 243.80 L115.50 243.74 L116.00 243.57 L116.50 243.91 L117.00 243.58 L117.50 243.75 L118.00 243.88 L118.50 243.80 L119.00 243.97 L119.50 244.08 L120.00 244.20 L120.50 244.15 L121.00 244.23 L121.50 244.43 L122.00 244.10 L122.50 244.60 L123.00 244.11 L123.50 244.15 L124.00 244.17 L124.50 244.59 L125.00 244.41 L125.50 244.43 L126.00 244.52 L126.50 244.82 L127.00 244.87 L127.50 244.78 L128.00 244.61 L128.50 244.56 L129.00 244.75 L129.50 245.02 L130.00 244.57 L130.50 244.86 L131.00 245.04 L131.50 244.96 L132.00 245.12 L132.50 244.89 L133.00 245.50 L133.50 244.86 L134.00 245.03 L134.50 245.22 L135.00 245.14 L135.50 244.99 L136.00 245.22 L136.50 245.48 L137.00 245.21 L137.50 245.16 L138.00 245.44 L138.50 245.73 L139.00 245.27 L139.50 245.27 L140.00 245.40 L140.50 245.69 L141.00 246.15 L141.50 245.60 L142.00 246.05 L142.50 245.89 L143.00 246.02 L143.50 246.67 L144.00 246.26 L144.50 246.28 L145.00 246.98 L145.50 246.96 L146.00 246.93 L146.50 247.16 L147.00 247.30 L147.50 247.83 L148.00 247.39 L148.50 247.38 L149.00 247.76 L149.50 247.67 L150.00 248.00 L150.70 248.16 L151.40 248.50 L151.92 248.15 L152.44 247.96 L152.96 247.94 L153.48 247.65 L154.00 247.50 L154.56 248.49 L155.12 248.76 L155.68 249.95 L156.24 250.56 L156.80 251.50 L157.36 252.54 L157.92 253.28 L158.48 254.23 L159.04 255.51 L159.60 256.40 L160.16 256.99 L160.72 257.71 L161.28 258.48 L161.84 258.92 L162.40 259.60 L162.90 259.95 L163.40 260.50 L163.92 260.03 L164.44 259.69 L164.96 258.96 L165.48 258.60 L166.00 258.00 L166.50 258.16 L167.00 258.85 L167.50 259.29 L168.00 259.91 L168.50 260.17 L169.00 260.06 L169.50 260.51 L170.00 261.26 L170.50 261.47 L171.00 262.00 L171.50 261.72 L172.00 262.50 L172.50 262.73 L173.00 262.95 L173.50 263.29 L174.00 263.38 L174.50 263.64 L175.00 263.94 L175.50 264.12 L176.00 264.42 L176.50 264.63 L177.00 264.85 L177.50 265.21 L178.00 265.77 L178.50 265.80 L179.00 265.78 L179.50 266.00 L180.00 265.53 L180.50 265.29 L181.00 264.71 L181.50 264.50 L182.00 264.24 L182.50 264.55 L183.00 264.73 L183.50 264.32 L184.00 264.67 L184.50 264.67 L185.00 264.59 L185.50 264.95 L186.00 264.72 L186.50 264.75 L187.00 265.19 L187.50 264.81 L188.00 264.58 L188.50 265.40 L189.00 265.26 L189.50 265.17 L190.00 265.00 L190.50 265.07 L191.01 265.25 L191.51 264.99 L192.01 265.24 L192.52 265.30 L193.02 265.13 L193.53 265.02 L194.03 265.03 L194.53 264.98 L195.04 265.05 L195.54 265.00 L196.04 265.16 L196.55 265.17 L197.05 265.08 L197.56 265.24 L198.06 265.61 L198.56 265.25 L199.07 265.19 L199.57 265.34 L200.07 264.89 L200.58 265.47 L201.08 265.28 L201.59 265.18 L202.09 265.43 L202.59 265.26 L203.10 265.11 L203.60 265.30 L204.15 265.01 L204.70 264.63 L205.25 264.57 L205.80 264.26 L206.35 264.05 L206.90 263.56 L207.45 263.36 L208.00 263.30 L208.50 263.74 L209.00 264.01 L209.50 263.88 L210.00 264.00 L210.50 264.23 L211.00 264.26 L211.50 264.37 L212.00 264.01 L212.50 264.41 L213.00 264.47 L213.50 264.77 L214.00 264.86 L214.50 264.89 L215.00 265.00 L215.50 265.61 L216.00 265.36 L216.50 265.10 L217.00 265.28 L217.50 265.56 L218.00 265.35 L218.50 265.74 L219.00 265.63 L219.50 265.70 L220.00 265.68 L220.50 265.89 L221.00 265.59 L221.50 265.73 L222.00 265.76 L222.50 266.29 L223.00 265.98 L223.50 266.05 L224.00 266.16 L224.50 266.15 L225.00 266.30 L225.50 265.95 L226.00 266.38 L226.50 266.22 L227.00 266.44 L227.50 266.32 L228.00 266.71 L228.50 266.55 L229.00 266.80 L229.50 266.57 L230.00 266.39 L230.50 266.79 L231.00 266.57 L231.50 266.64 L232.00 267.20 L232.50 266.95 L233.00 267.07 L233.50 266.82 L234.00 266.70 L234.50 266.91 L235.00 267.00 L235.50 267.39 L236.00 267.02 L236.50 267.11 L237.00 267.32 L237.50 266.64 L238.00 267.28 L238.50 267.17 L239.00 267.08 L239.50 267.13 L240.00 267.04 L240.50 267.33 L241.00 266.65 L241.50 266.97 L242.00 267.02 L242.50 267.00 L243.00 267.29 L243.50 266.95 L244.00 266.86 L244.50 267.49 L245.00 266.96 L245.50 267.07 L246.00 267.20 L246.50 266.81 L247.00 267.58 L247.50 267.18 L248.00 267.22 L248.50 267.43 L249.00 267.27 L249.50 267.21 L250.00 267.33 L250.50 267.03 L251.00 267.32 L251.50 267.00 L252.00 267.15 L252.50 267.55 L253.00 266.79 L253.50 267.34 L254.00 267.31 L254.50 267.48 L255.00 267.50 L255.50 267.79 L256.00 267.03 L256.50 267.28 L257.00 267.55 L257.50 267.26 L258.00 266.75 L258.50 267.20 L259.00 267.47 L259.50 267.43 L260.00 267.40 L260.51 267.51 L261.01 267.30 L261.52 267.28 L262.02 267.50 L262.53 267.32 L263.04 267.33 L263.54 267.26 L264.05 267.17 L264.55 267.31 L265.06 267.24 L265.56 267.60 L266.07 267.38 L266.58 267.27 L267.08 267.43 L267.59 267.39 L268.09 267.52 L268.60 267.14 L269.11 267.13 L269.61 267.12 L270.12 267.03 L270.62 267.11 L271.13 267.08 L271.64 267.35 L272.14 266.97 L272.65 267.07 L273.15 267.12 L273.66 267.15 L274.16 267.34 L274.67 267.10 L275.18 267.10 L275.68 267.07 L276.19 267.30 L276.69 267.17 L277.20 267.05 L277.71 266.96 L278.21 267.31 L278.72 267.21 L279.22 267.40 L279.73 267.34 L280.24 266.89 L280.74 266.82 L281.25 267.38 L281.75 267.16 L282.26 267.01 L282.76 266.98 L283.27 266.77 L283.78 266.94 L284.28 267.16 L284.79 266.81 L285.29 266.86 L285.80 267.00" fill="none" stroke="#000" stroke-width="0.95" stroke-linejoin="round" />
<path d="M151.40 248.50 L151.80 227.60 L152.20 250.50 L152.80 246.00 L153.30 237.80 L153.80 247.00 L154.00 247.50" fill="none" stroke="#111" stroke-width="0.6" stroke-linejoin="round" />
<path d="M163.40 260.50 L163.80 241.60 L164.20 265.80 L164.70 258.00 L165.00 244.00 L165.40 260.00 L166.00 258.00" fill="none" stroke="#111" stroke-width="0.6" stroke-linejoin="round" />
<path d="M179.50 266.00 L179.80 246.70 L180.20 270.40 L180.80 265.00 L181.50 264.50" fill="none" stroke="#111" stroke-width="0.6" stroke-linejoin="round" />
<path d="M203.60 265.30 L204.00 246.70 L204.50 270.90 L205.20 264.00 L206.00 249.30 L206.50 265.00 L208.00 263.30" fill="none" stroke="#111" stroke-width="0.6" stroke-linejoin="round" />
<path d="M294.90 266.80 L295.30 265.50 L295.70 261.00 L296.10 257.73 L296.50 254.40 L297.05 251.05 L297.60 247.00 L298.10 244.29 L298.60 241.16 L299.10 238.30 L299.60 235.87 L300.10 233.84 L300.60 231.50 L301.03 229.98 L301.45 228.47 L301.88 226.97 L302.30 225.40 L302.83 223.68 L303.37 221.46 L303.90 219.50 L304.30 218.22 L304.70 217.19 L305.10 215.05 L305.50 214.20 L305.93 213.14 L306.35 211.60 L306.77 210.92 L307.20 209.80 L307.60 208.91 L308.00 208.07 L308.40 206.89 L308.80 206.10 L309.33 205.33 L309.87 203.65 L310.40 202.80 L310.90 202.71 L311.40 202.50" fill="none" stroke="#000" stroke-width="0.95" stroke-linejoin="round" />
<path d="M294.90 266.80 L295.30 265.50 L295.70 261.00 L296.10 257.73 L296.50 254.40 L297.05 251.05 L297.60 247.00 L298.10 244.29 L298.60 241.16 L299.10 238.30 L299.60 235.87 L300.10 233.84 L300.60 231.50 L301.03 229.98 L301.45 228.47 L301.88 226.97 L302.30 225.40 L302.83 223.68 L303.37 221.46 L303.90 219.50 L304.30 218.22 L304.70 217.19 L305.10 215.05 L305.50 214.20 L305.93 213.14 L306.35 211.60 L306.77 210.92 L307.20 209.80 L307.60 208.91 L308.00 208.07 L308.40 206.89 L308.80 206.10 L309.33 205.33 L309.87 203.65 L310.40 202.80 L310.90 202.71 L311.40 202.50 L312.24 199.89 L313.07 204.36 L313.99 199.46 L314.91 205.25 L315.81 196.94 L316.71 203.91 L317.56 197.76 L318.41 203.50 L319.35 192.47 L320.30 205.11 L321.31 192.69 L322.33 205.17 L323.32 193.16 L324.32 205.77 L325.35 189.20 L326.38 204.33 L327.47 189.86 L328.56 206.80 L328.80 207.77 L329.30 199.27 L329.80 187.00 L330.35 202.64 L330.70 208.19 L331.10 202.45 L331.60 205.78 L332.10 198.96 L332.60 185.80 L333.15 203.14 L333.50 207.90 L333.90 203.39 L334.40 205.13 L334.90 197.61 L335.40 185.20 L335.95 202.87 L336.30 207.38 L336.70 204.28 L337.60 206.51 L338.10 197.63 L338.60 184.00 L339.15 203.58 L339.50 206.48 L339.90 204.55 L340.30 205.77 L340.80 198.73 L341.30 184.60 L341.85 202.46 L342.20 207.80 L342.60 203.42 L343.10 208.21 L343.60 200.18 L344.10 183.40 L344.65 201.84 L345.00 206.98 L345.40 204.35 L345.60 206.65 L346.10 199.63 L346.60 185.40 L347.15 203.27 L347.50 205.78 L347.90 202.31 L348.00 204.91 L348.55 203.33 L349.10 204.04 L349.65 203.50 L350.20 183.60 L350.70 205.00 L351.05 208.63 L351.45 204.50 L352.05 203.50 L352.60 184.40 L353.10 205.00 L353.45 207.37 L353.85 204.50 L354.20 201.94 L354.75 204.61 L355.25 203.50 L355.80 182.80 L356.30 205.00 L356.65 208.02 L357.05 204.50 L357.40 203.64 L357.95 205.27 L358.50 203.72 L359.05 203.50 L359.60 182.80 L360.10 205.00 L360.45 208.28 L360.85 204.50 L361.20 204.34 L361.75 202.11 L362.30 205.93 L362.85 204.46 L363.40 203.41 L364.05 203.50 L364.60 182.90 L365.10 205.00 L365.45 208.88 L365.85 204.50 L366.20 202.99 L366.75 203.25 L367.30 202.66 L367.85 203.76 L368.45 203.50 L369.00 184.00 L369.50 205.00 L369.85 207.93 L370.25 204.50 L370.60 204.30 L371.15 203.50 L371.70 190.50 L372.20 205.00 L372.55 207.97 L372.95 204.50 L373.30 204.29 L373.85 204.49 L374.40 204.44 L375.25 203.50 L375.80 189.20 L376.30 205.00 L376.65 208.49 L377.05 204.50 L376.40 200.00 L376.70 206.00 L377.10 217.50" fill="none" stroke="#000" stroke-width="0.68" stroke-linejoin="round" />
<path d="M376.70 206.00 L377.10 217.50 L378.00 220.00 L378.50 221.15 L379.00 222.14 L379.50 223.40 L380.00 223.95 L380.50 225.15 L381.00 225.74 L381.50 226.80 L382.07 227.78 L382.65 228.64 L383.23 229.57 L383.80 230.50 L384.30 231.25 L384.80 232.00 L385.35 233.29 L385.90 234.25 L386.45 235.65 L387.00 236.80 L387.60 238.14 L388.20 239.27 L388.80 240.49 L389.40 241.50 L389.90 242.21 L390.40 243.00 L390.93 243.92 L391.47 245.15 L392.00 245.80 L392.60 246.58 L393.20 247.24 L393.80 248.05 L394.40 248.60 L394.92 248.85 L395.44 249.34 L395.96 249.81 L396.48 250.11 L397.00 250.50 L397.57 250.99 L398.13 251.10 L398.70 251.43 L399.27 251.44 L399.83 251.83 L400.40 252.10 L400.90 252.35 L401.40 252.60 L401.92 252.96 L402.44 253.23 L402.96 253.44 L403.48 253.81 L404.00 254.00 L404.52 254.56 L405.05 254.51 L405.58 254.65 L406.10 255.00 L406.60 255.33 L407.10 255.30 L407.64 255.73 L408.19 255.75 L408.73 256.08 L409.28 255.84 L409.82 256.43 L410.37 256.54 L410.91 257.11 L411.46 257.03 L412.00 257.20 L412.53 257.63 L413.06 257.47 L413.59 257.61 L414.12 257.72 L414.65 257.78 L415.18 258.02 L415.71 258.42 L416.24 258.17 L416.77 258.57 L417.30 258.70 L417.80 259.02 L418.30 259.00 L418.82 259.11 L419.34 259.21 L419.87 259.25 L420.39 259.35 L420.91 259.05 L421.43 259.63 L421.96 259.52 L422.48 259.45 L423.00 259.60 L423.50 259.61 L424.00 259.68 L424.50 259.85 L425.00 259.63 L425.50 259.67 L426.00 259.71 L426.50 260.09 L427.00 259.87 L427.50 260.07 L428.00 260.10 L428.50 259.98 L429.00 260.19 L429.50 260.18 L430.00 260.19 L430.50 260.52 L431.00 260.42 L431.50 260.31 L432.00 260.86 L432.50 260.41 L433.00 260.43 L433.50 260.40 L434.00 260.95 L434.50 260.79 L435.00 260.86 L435.50 261.02 L436.00 260.92 L436.50 261.06 L437.00 261.00 L437.51 261.29 L438.01 261.11 L438.52 261.22 L439.02 261.16 L439.53 261.19 L440.03 261.41 L440.54 261.32 L441.04 261.30 L441.55 261.01 L442.05 261.19 L442.56 261.25 L443.06 261.38 L443.57 261.47 L444.07 261.47 L444.58 261.46 L445.08 261.56 L445.59 261.60 L446.09 261.71 L446.60 261.60 L447.11 261.38 L447.62 261.83 L448.14 262.01 L448.65 261.93 L449.16 261.73 L449.68 261.70 L450.19 261.86 L450.70 262.11 L451.21 261.99 L451.73 261.68 L452.24 261.53 L452.75 262.09 L453.26 262.45 L453.78 261.89 L454.29 262.07 L454.80 262.21 L455.31 262.29 L455.82 262.41 L456.34 262.08 L456.85 262.37 L457.36 262.29 L457.88 262.55 L458.39 262.52 L458.90 262.67 L459.41 262.36 L459.93 262.41 L460.44 262.51 L460.95 262.58 L461.46 262.58 L461.98 262.54 L462.49 262.67 L463.00 262.80" fill="none" stroke="#000" stroke-width="0.95" stroke-linejoin="round" />
<path d="M383.80 230.50 L384.20 223.40 L384.80 232.00" fill="none" stroke="#111" stroke-width="0.6" stroke-linejoin="round" />
<path d="M389.40 241.50 L389.80 236.50 L390.40 243.00" fill="none" stroke="#111" stroke-width="0.6" stroke-linejoin="round" />
<path d="M400.40 252.10 L400.80 248.60 L401.40 252.60" fill="none" stroke="#111" stroke-width="0.6" stroke-linejoin="round" />
<path d="M406.10 255.00 L406.50 252.00 L407.10 255.30" fill="none" stroke="#111" stroke-width="0.6" stroke-linejoin="round" />
<path d="M417.30 258.70 L417.70 254.20 L418.30 259.00" fill="none" stroke="#111" stroke-width="0.6" stroke-linejoin="round" />
<text x="472.00" y="10.60" font-size="10.8" text-anchor="start" font-weight="bold" >C.</text>
<text x="580.90" y="16.00" font-size="8.3" text-anchor="middle" fill="#1a1a1a" textLength="142.40" lengthAdjust="spacingAndGlyphs" >Absolute Tensile Change by Treatment</text>
<line x1="509.60" y1="17.50" x2="652.20" y2="17.50" stroke="#4a4a4a" stroke-width="1.1" />
<text transform="translate(480.90,73.20) rotate(-90)" font-size="7.3" text-anchor="middle" textLength="71.40" lengthAdjust="spacingAndGlyphs" >Tension Change (mN)</text>
<line x1="499.40" y1="136.30" x2="673.30" y2="136.30" stroke="#d0d0d0" stroke-width="0.7" />
<text x="492.50" y="138.80" font-size="6.9" text-anchor="middle" fill="#222" stroke="#333" stroke-width="0.15">-3</text>
<line x1="499.40" y1="122.30" x2="673.30" y2="122.30" stroke="#d0d0d0" stroke-width="0.7" />
<text x="492.50" y="124.80" font-size="6.9" text-anchor="middle" fill="#222" stroke="#333" stroke-width="0.15">-2</text>
<line x1="499.40" y1="108.30" x2="673.30" y2="108.30" stroke="#d0d0d0" stroke-width="0.7" />
<text x="492.50" y="110.80" font-size="6.9" text-anchor="middle" fill="#222" stroke="#333" stroke-width="0.15">-1</text>
<line x1="499.40" y1="94.30" x2="673.30" y2="94.30" stroke="#d0d0d0" stroke-width="0.7" />
<text x="492.50" y="96.80" font-size="6.9" text-anchor="middle" fill="#222" stroke="#333" stroke-width="0.15">0</text>
<line x1="499.40" y1="80.30" x2="673.30" y2="80.30" stroke="#d0d0d0" stroke-width="0.7" />
<text x="492.50" y="82.80" font-size="6.9" text-anchor="middle" fill="#222" stroke="#333" stroke-width="0.15">1</text>
<line x1="499.40" y1="66.30" x2="673.30" y2="66.30" stroke="#d0d0d0" stroke-width="0.7" />
<text x="492.50" y="68.80" font-size="6.9" text-anchor="middle" fill="#222" stroke="#333" stroke-width="0.15">2</text>
<line x1="499.40" y1="52.30" x2="673.30" y2="52.30" stroke="#d0d0d0" stroke-width="0.7" />
<text x="492.50" y="54.80" font-size="6.9" text-anchor="middle" fill="#222" stroke="#333" stroke-width="0.15">3</text>
<line x1="499.40" y1="38.30" x2="673.30" y2="38.30" stroke="#d0d0d0" stroke-width="0.7" />
<text x="492.50" y="40.80" font-size="6.9" text-anchor="middle" fill="#222" stroke="#333" stroke-width="0.15">4</text>
<line x1="499.40" y1="24.30" x2="673.30" y2="24.30" stroke="#d0d0d0" stroke-width="0.7" />
<text x="492.50" y="26.80" font-size="6.9" text-anchor="middle" fill="#222" stroke="#333" stroke-width="0.15">5</text>
<rect x="508.30" y="91.60" width="19.80" height="2.70" fill="#000"/>
<rect x="528.50" y="70.00" width="19.20" height="24.30" fill="#a6a6a6" stroke="#3a3a3a" stroke-width="0.8"/>
<line x1="537.90" y1="61.80" x2="537.90" y2="78.90" stroke="#4a4a4a" stroke-width="0.7" />
<line x1="536.10" y1="61.80" x2="539.70" y2="61.80" stroke="#4a4a4a" stroke-width="0.7" />
<line x1="536.10" y1="78.90" x2="539.70" y2="78.90" stroke="#4a4a4a" stroke-width="0.7" />
<line x1="518.20" y1="91.00" x2="518.20" y2="92.20" stroke="#888" stroke-width="0.7" />
<line x1="516.40" y1="91.00" x2="520.00" y2="91.00" stroke="#888" stroke-width="0.7" />
<line x1="516.40" y1="92.20" x2="520.00" y2="92.20" stroke="#888" stroke-width="0.7" />
<rect x="566.50" y="88.60" width="19.50" height="5.70" fill="#000"/>
<rect x="586.40" y="43.30" width="19.00" height="51.00" fill="#a6a6a6" stroke="#3a3a3a" stroke-width="0.8"/>
<line x1="595.70" y1="31.80" x2="595.70" y2="54.70" stroke="#4a4a4a" stroke-width="0.7" />
<line x1="593.90" y1="31.80" x2="597.50" y2="31.80" stroke="#4a4a4a" stroke-width="0.7" />
<line x1="593.90" y1="54.70" x2="597.50" y2="54.70" stroke="#4a4a4a" stroke-width="0.7" />
<line x1="576.20" y1="87.70" x2="576.20" y2="89.50" stroke="#888" stroke-width="0.7" />
<line x1="574.40" y1="87.70" x2="578.00" y2="87.70" stroke="#888" stroke-width="0.7" />
<line x1="574.40" y1="89.50" x2="578.00" y2="89.50" stroke="#888" stroke-width="0.7" />
<rect x="624.20" y="94.30" width="19.80" height="2.40" fill="#000"/>
<rect x="644.40" y="94.30" width="19.50" height="29.10" fill="#a6a6a6" stroke="#3a3a3a" stroke-width="0.8"/>
<line x1="654.20" y1="121.70" x2="654.20" y2="126.50" stroke="#4a4a4a" stroke-width="0.7" />
<line x1="652.40" y1="121.70" x2="656.00" y2="121.70" stroke="#4a4a4a" stroke-width="0.7" />
<line x1="652.40" y1="126.50" x2="656.00" y2="126.50" stroke="#4a4a4a" stroke-width="0.7" />
<line x1="634.10" y1="96.00" x2="634.10" y2="97.20" stroke="#888" stroke-width="0.7" />
<line x1="632.30" y1="96.00" x2="635.90" y2="96.00" stroke="#888" stroke-width="0.7" />
<line x1="632.30" y1="97.20" x2="635.90" y2="97.20" stroke="#888" stroke-width="0.7" />
<text x="530.60" y="106.60" font-size="6.6" text-anchor="middle" fill="#1a1a1a" >K+PSS</text>
<text x="530.60" y="115.00" font-size="6.6" text-anchor="middle" fill="#1a1a1a" >60mM</text>
<text x="586.50" y="106.40" font-size="6.6" text-anchor="middle" fill="#1a1a1a" >EDN2</text>
<text x="586.50" y="114.60" font-size="6.6" text-anchor="middle" fill="#1a1a1a" >50nM</text>
<text x="641.40" y="83.10" font-size="6.6" text-anchor="middle" fill="#1a1a1a" >Tezosentan</text>
<text x="641.40" y="91.10" font-size="6.6" text-anchor="middle" fill="#1a1a1a" >140nM</text>
<rect x="636.30" y="26.20" width="29.00" height="22.90" fill="#fff" stroke="#2a2a2a" stroke-width="0.9"/>
<rect x="639.50" y="30.10" width="3.80" height="3.80" fill="#000"/>
<text x="644.00" y="34.50" font-size="6.7" text-anchor="start" textLength="16.20" lengthAdjust="spacingAndGlyphs" >Ovary</text>
<rect x="639.80" y="41.60" width="3.20" height="3.20" fill="#a6a6a6" stroke="#3a3a3a" stroke-width="0.7"/>
<text x="644.00" y="45.60" font-size="6.7" text-anchor="start" textLength="17.60" lengthAdjust="spacingAndGlyphs" >Uterus</text>
<text x="473.60" y="159.70" font-size="10.8" text-anchor="start" font-weight="bold" >D.</text>
<text x="582.30" y="160.40" font-size="8.3" text-anchor="middle" fill="#1a1a1a" textLength="171.00" lengthAdjust="spacingAndGlyphs" >Relative Tensile Change Normalized to K+PSS</text>
<line x1="496.60" y1="162.00" x2="667.90" y2="162.00" stroke="#4a4a4a" stroke-width="1.1" />
<text transform="translate(482.40,217.50) rotate(-90)" font-size="7.3" text-anchor="middle" textLength="99.00" lengthAdjust="spacingAndGlyphs" >Relative Tension Change (AU)</text>
<line x1="498.00" y1="281.50" x2="672.50" y2="281.50" stroke="#d0d0d0" stroke-width="0.7" />
<text x="490.40" y="284.00" font-size="6.9" text-anchor="middle" fill="#222" stroke="#333" stroke-width="0.15">-4</text>
<line x1="498.00" y1="267.10" x2="672.50" y2="267.10" stroke="#d0d0d0" stroke-width="0.7" />
<text x="490.40" y="269.60" font-size="6.9" text-anchor="middle" fill="#222" stroke="#333" stroke-width="0.15">-3</text>
<line x1="498.00" y1="252.70" x2="672.50" y2="252.70" stroke="#d0d0d0" stroke-width="0.7" />
<text x="490.40" y="255.20" font-size="6.9" text-anchor="middle" fill="#222" stroke="#333" stroke-width="0.15">-2</text>
<line x1="498.00" y1="238.30" x2="672.50" y2="238.30" stroke="#d0d0d0" stroke-width="0.7" />
<text x="490.40" y="240.80" font-size="6.9" text-anchor="middle" fill="#222" stroke="#333" stroke-width="0.15">-1</text>
<line x1="498.00" y1="223.90" x2="672.50" y2="223.90" stroke="#d0d0d0" stroke-width="0.7" />
<text x="490.40" y="226.40" font-size="6.9" text-anchor="middle" fill="#222" stroke="#333" stroke-width="0.15">0</text>
<line x1="498.00" y1="209.50" x2="672.50" y2="209.50" stroke="#d0d0d0" stroke-width="0.7" />
<text x="490.40" y="212.00" font-size="6.9" text-anchor="middle" fill="#222" stroke="#333" stroke-width="0.15">1</text>
<line x1="498.00" y1="195.10" x2="672.50" y2="195.10" stroke="#d0d0d0" stroke-width="0.7" />
<text x="490.40" y="197.60" font-size="6.9" text-anchor="middle" fill="#222" stroke="#333" stroke-width="0.15">2</text>
<line x1="498.00" y1="180.70" x2="672.50" y2="180.70" stroke="#d0d0d0" stroke-width="0.7" />
<text x="490.40" y="183.20" font-size="6.9" text-anchor="middle" fill="#222" stroke="#333" stroke-width="0.15">3</text>
<line x1="498.00" y1="166.30" x2="672.50" y2="166.30" stroke="#d0d0d0" stroke-width="0.7" />
<text x="490.40" y="168.80" font-size="6.9" text-anchor="middle" fill="#222" stroke="#333" stroke-width="0.15">4</text>
<rect x="507.30" y="209.50" width="19.60" height="14.40" fill="#000"/>
<rect x="527.30" y="209.60" width="19.50" height="14.30" fill="#a6a6a6" stroke="#3a3a3a" stroke-width="0.8"/>
<rect x="565.20" y="191.80" width="19.80" height="32.10" fill="#000"/>
<rect x="585.40" y="186.80" width="19.20" height="37.10" fill="#a6a6a6" stroke="#3a3a3a" stroke-width="0.8"/>
<line x1="575.20" y1="190.80" x2="575.20" y2="192.60" stroke="#888" stroke-width="0.7" />
<line x1="573.40" y1="190.80" x2="577.00" y2="190.80" stroke="#888" stroke-width="0.7" />
<line x1="573.40" y1="192.60" x2="577.00" y2="192.60" stroke="#888" stroke-width="0.7" />
<line x1="594.60" y1="180.10" x2="594.60" y2="193.30" stroke="#4a4a4a" stroke-width="0.7" />
<line x1="592.80" y1="180.10" x2="596.40" y2="180.10" stroke="#4a4a4a" stroke-width="0.7" />
<line x1="592.80" y1="193.30" x2="596.40" y2="193.30" stroke="#4a4a4a" stroke-width="0.7" />
<rect x="623.70" y="223.90" width="19.60" height="13.70" fill="#000"/>
<rect x="643.70" y="223.90" width="19.40" height="37.00" fill="#a6a6a6" stroke="#3a3a3a" stroke-width="0.8"/>
<line x1="633.50" y1="235.30" x2="633.50" y2="238.60" stroke="#888" stroke-width="0.7" />
<line x1="631.70" y1="235.30" x2="635.30" y2="235.30" stroke="#888" stroke-width="0.7" />
<line x1="631.70" y1="238.60" x2="635.30" y2="238.60" stroke="#888" stroke-width="0.7" />
<line x1="653.50" y1="254.40" x2="653.50" y2="267.10" stroke="#4a4a4a" stroke-width="0.7" />
<line x1="651.70" y1="254.40" x2="655.30" y2="254.40" stroke="#4a4a4a" stroke-width="0.7" />
<line x1="651.70" y1="267.10" x2="655.30" y2="267.10" stroke="#4a4a4a" stroke-width="0.7" />
<text x="527.30" y="237.20" font-size="6.6" text-anchor="middle" fill="#1a1a1a" >K+PSS</text>
<text x="527.30" y="245.30" font-size="6.6" text-anchor="middle" fill="#1a1a1a" >60mM</text>
<text x="586.80" y="237.20" font-size="6.6" text-anchor="middle" fill="#1a1a1a" >EDN2</text>
<text x="586.80" y="245.30" font-size="6.6" text-anchor="middle" fill="#1a1a1a" >50nM</text>
<text x="642.80" y="209.80" font-size="6.6" text-anchor="middle" fill="#1a1a1a" >Tezosentan</text>
<text x="642.80" y="217.80" font-size="6.6" text-anchor="middle" fill="#1a1a1a" >140nM</text>
<rect x="631.80" y="173.40" width="29.60" height="22.00" fill="#fff" stroke="#2a2a2a" stroke-width="0.9"/>
<rect x="635.70" y="177.40" width="4.00" height="4.00" fill="#000"/>
<text x="640.80" y="181.90" font-size="6.7" text-anchor="start" textLength="16.00" lengthAdjust="spacingAndGlyphs" >Ovary</text>
<rect x="636.00" y="189.00" width="3.40" height="3.40" fill="#a6a6a6" stroke="#3a3a3a" stroke-width="0.7"/>
<text x="640.80" y="193.20" font-size="6.7" text-anchor="start" textLength="17.60" lengthAdjust="spacingAndGlyphs" >Uterus</text>
</svg>
</body></html>
